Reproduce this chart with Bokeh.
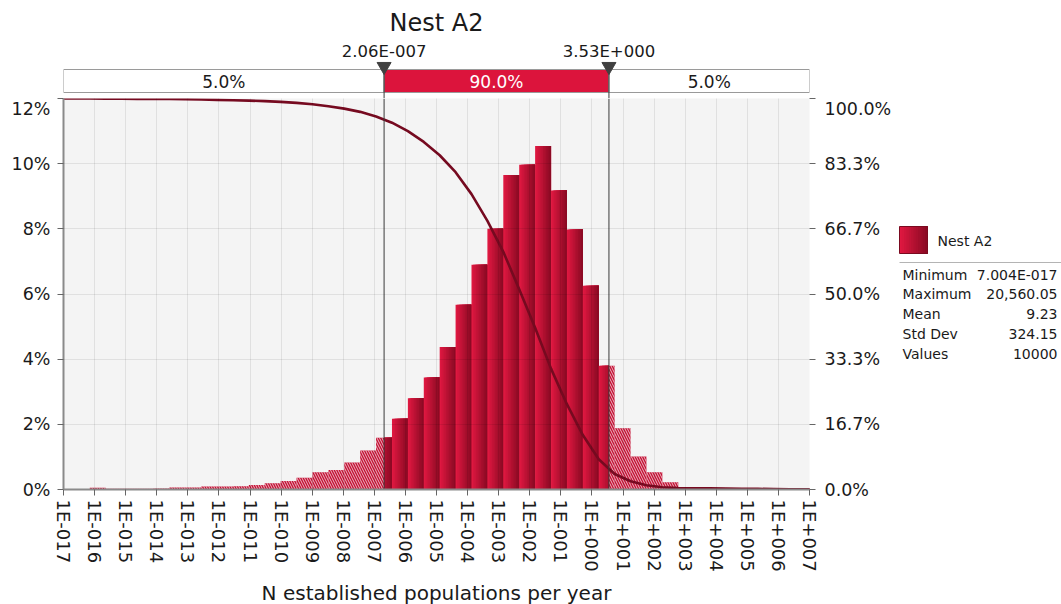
import numpy as np
from bokeh.plotting import figure
from bokeh.models import Range1d, LinearAxis, FixedTicker, PrintfTickFormatter
from bokeh.layouts import row, column
from bokeh.core.properties import value
from bokeh.embed import file_html
from bokeh.resources import INLINE

# ---------------- data ----------------
title_text = "Nest A2"
x_axis_title = "N established populations per year"
x_tick_exponents = list(range(-17, 8))
x_tick_labels = ["1E-017", "1E-016", "1E-015", "1E-014", "1E-013", "1E-012", "1E-011",
                 "1E-010", "1E-009", "1E-008", "1E-007", "1E-006", "1E-005", "1E-004",
                 "1E-003", "1E-002", "1E-001", "1E+000", "1E+001", "1E+002", "1E+003",
                 "1E+004", "1E+005", "1E+006", "1E+007"]
y_left_ticks = [0, 2, 4, 6, 8, 10, 12]
y_left_labels = ["0%", "2%", "4%", "6%", "8%", "10%", "12%"]
y_right_ticks = [0, 100 / 6, 200 / 6, 50, 400 / 6, 500 / 6, 100]

stat_min = 7.004e-17
stat_max = 20560.05
bins_between_min_max = 40
# histogram bar heights (% of values) per log-bin, starting at the minimum
hist_pct = [0.05, 0.02, 0.02, 0.02, 0.03, 0.06, 0.06, 0.09, 0.09, 0.10,
            0.14, 0.19, 0.26, 0.36, 0.53, 0.60, 0.83, 1.20, 1.59, 2.17,
            2.80, 3.44, 4.37, 5.67, 6.90, 8.00, 9.65, 9.97, 10.54, 9.18,
            7.98, 6.25, 3.80, 1.88, 1.01, 0.53, 0.22, 0.04, 0.04, 0.04,
            0.04, 0.04, 0.04, 0.04, 0.04, 0.04]

delim_low = 2.06e-7
delim_high = 3.53
delim_labels = ["2.06E-007", "3.53E+000"]
region_labels = ["5.0%", "90.0%", "5.0%"]

legend_name = "Nest A2"
stats_names = ["Minimum", "Maximum", "Mean", "Std Dev", "Values"]
stats_values = ["7.004E-017", "20,560.05", "9.23", "324.15", "10000"]

# ---------------- styles ----------------
FONT = "DejaVu Sans"
TXT = "#1a1a1a"
RED = "#dc143c"
X0, X1 = -17, 7
TOP_H = 98
BOTTOM_B = 112
SIDE_X0 = 895
PAGE_W = 1061


def grad(t):
    c0 = (222, 24, 64)
    c1 = (140, 10, 36)
    return "#%02x%02x%02x" % tuple(int(round(a + (b - a) * t)) for a, b in zip(c0, c1))


# ---------------- derived geometry ----------------
log_min = np.log10(stat_min)
bw = (np.log10(stat_max) - log_min) / bins_between_min_max
edges = log_min + bw * np.arange(len(hist_pct) + 1)
lo = np.log10(delim_low)
hi = np.log10(delim_high)

n_str = 10
sl, sr, st, sc = [], [], [], []
hl, hr, ht = [], [], []
for k, v in enumerate(hist_pct):
    a, b = edges[k], edges[k + 1]
    right_solid = min(b, hi)
    for j in range(n_str):
        l = max(a + (b - a) * j / n_str, lo)
        if right_solid > l:
            # nested stripes (each reaches the bar's right edge) -> no seams
            sl.append(l); sr.append(right_solid); st.append(v); sc.append(grad(j / (n_str - 1)))
    if a < lo:
        hl.append(a); hr.append(min(b, lo)); ht.append(v)
    if b > hi:
        hl.append(max(a, hi)); hr.append(b); ht.append(v)

total = float(np.sum(hist_pct))
cum_desc = 100.0 - np.concatenate([[0.0], np.cumsum(hist_pct)]) / total * 100.0
cum_x = [X0] + list(edges)
cum_y = [100.0] + list(cum_desc)

# ---------------- main plot ----------------
p = figure(frame_width=746, frame_height=391, min_border_left=63, min_border_right=86,
           min_border_top=0, min_border_bottom=BOTTOM_B,
           x_range=Range1d(X0, X1), y_range=Range1d(0, 12),
           toolbar_location=None, output_backend="svg")
p.extra_y_ranges = {"cum": Range1d(0, 100)}
p.background_fill_color = "#f4f4f4"
p.border_fill_color = "white"
p.outline_line_color = None

p.quad(left=hl, right=hr, bottom=0, top=ht, fill_color="#c20f33", line_color=None,
       hatch_pattern="\\", hatch_color="white", hatch_alpha=0.7, hatch_scale=5, hatch_weight=1.0)
p.quad(left=sl, right=sr, bottom=0, top=st, fill_color=sc, line_color=None)
p.line(cum_x, cum_y, y_range_name="cum", line_color="#760a20", line_width=2.6)
p.segment(x0=[lo, hi], y0=[0, 0], x1=[lo, hi], y1=[12, 12], line_color="#3a3a3a", line_width=1)

for g in (p.xgrid, p.ygrid):
    g.grid_line_color = "black"
    g.grid_line_alpha = 0.08
    g.level = "overlay"
p.xgrid.ticker = FixedTicker(ticks=x_tick_exponents)
p.ygrid.ticker = FixedTicker(ticks=y_left_ticks)

xa = p.xaxis[0]
xa.ticker = FixedTicker(ticks=x_tick_exponents)
xa.major_label_overrides = {e: l for e, l in zip(x_tick_exponents, x_tick_labels)}
xa.major_label_orientation = "vertical"
xa.axis_label = x_axis_title
xa.axis_label_text_font = FONT
xa.axis_label_text_font_size = "20px"
xa.axis_label_text_font_style = "normal"
xa.axis_label_text_color = TXT
xa.axis_label_standoff = 6
xa.major_label_standoff = 4

ya = p.yaxis[0]
ya.ticker = FixedTicker(ticks=y_left_ticks)
ya.major_label_overrides = {t: l for t, l in zip(y_left_ticks, y_left_labels)}
ya.major_label_standoff = 7

ra = LinearAxis(y_range_name="cum", ticker=FixedTicker(ticks=y_right_ticks),
                formatter=PrintfTickFormatter(format="%.1f%%"))
p.add_layout(ra, "right")
ra.axis_line_color = None
ra.major_label_standoff = 9

for ax in (xa, ya, ra):
    ax.major_label_text_font = FONT
    ax.major_label_text_color = TXT
    ax.major_tick_line_color = "#666666"
    ax.major_tick_out = 6
    ax.major_tick_in = 0
    ax.minor_tick_line_color = None
xa.major_label_text_font_size = "18px"
ya.major_label_text_font_size = "17.5px"
ra.major_label_text_font_size = "17.5px"
for ax in (xa, ya):
    ax.axis_line_color = "#8a8a8a"
    ax.axis_line_width = 2

# ---------------- top strip (title + delimiters) ----------------
t = figure(frame_width=746, frame_height=TOP_H, min_border_left=63, min_border_right=86,
           min_border_top=0, min_border_bottom=0, x_range=p.x_range, y_range=Range1d(0, TOP_H),
           x_axis_location=None, y_axis_location=None,
           toolbar_location=None, output_backend="svg")
t.grid.visible = False
t.outline_line_color = None
t.background_fill_color = "white"
t.border_fill_color = "white"

t.quad(left=[X0, lo, hi], right=[lo, hi, X1], bottom=6, top=29,
       fill_color=["white", RED, "white"], line_color="#9a9a9a", line_width=1)
t.segment(x0=[lo, hi], y0=[0, 0], x1=[lo, hi], y1=[29, 29], line_color="#3a3a3a", line_width=1)
t.scatter(x=[lo, hi], y=[32, 32], marker="inverted_triangle", size=14,
          fill_color="#404040", line_color="#404040")
t.text(x=[lo, hi], y=[47, 47], text=delim_labels, text_font=value(FONT),
       text_font_size=value("16.5px"), text_align="center", text_baseline="middle", text_color=TXT)
t.text(x=[(X0 + lo) / 2, (lo + hi) / 2, (hi + X1) / 2], y=[17, 17, 17], text=region_labels,
       text_font=value(FONT), text_font_size=value("17px"), text_align="center",
       text_baseline="middle", text_color=[TXT, "white", TXT])
t.text(x=[(X0 + X1) / 2], y=[76], text=[title_text], text_font=value(FONT),
       text_font_size=value("24px"), text_align="center", text_baseline="middle", text_color=TXT)

# ---------------- side legend / stats ----------------
col_h = TOP_H + 391 + BOTTOM_B
s = figure(width=PAGE_W - SIDE_X0, height=col_h, min_border=0, x_range=Range1d(SIDE_X0, PAGE_W),
           y_range=Range1d(col_h, 0), x_axis_location=None, y_axis_location=None,
           toolbar_location=None, output_backend="svg")
s.grid.visible = False
s.outline_line_color = None
s.background_fill_color = "white"
s.border_fill_color = "white"

n_sw = 12
sw_l = [899 + 28 * i / n_sw for i in range(n_sw)]
s.quad(left=sw_l, right=[927] * n_sw, top=226, bottom=253,
       fill_color=[grad(i / (n_sw - 1)) for i in range(n_sw)], line_color=None)
s.quad(left=[899], right=[927], top=[226], bottom=[253], fill_color=None, line_color="#7a0a20", line_width=1)
s.text(x=[937], y=[240], text=[legend_name], text_font=value(FONT), text_font_size=value("14px"),
       text_baseline="middle", text_color=TXT)
s.segment(x0=[899], y0=[262], x1=[PAGE_W], y1=[262], line_color="#b4b4b4", line_width=1)
rows_y = [274 + 19.8 * i for i in range(len(stats_names))]
s.text(x=[902] * len(stats_names), y=rows_y, text=stats_names, text_font=value(FONT),
       text_font_size=value("14px"), text_baseline="middle", text_color=TXT)
s.text(x=[1057] * len(stats_values), y=rows_y, text=stats_values, text_font=value(FONT),
       text_font_size=value("14px"), text_baseline="middle", text_align="right", text_color=TXT)

layout = row(column(t, p), s)
open("out.html", "w").write(file_html(layout, INLINE))
